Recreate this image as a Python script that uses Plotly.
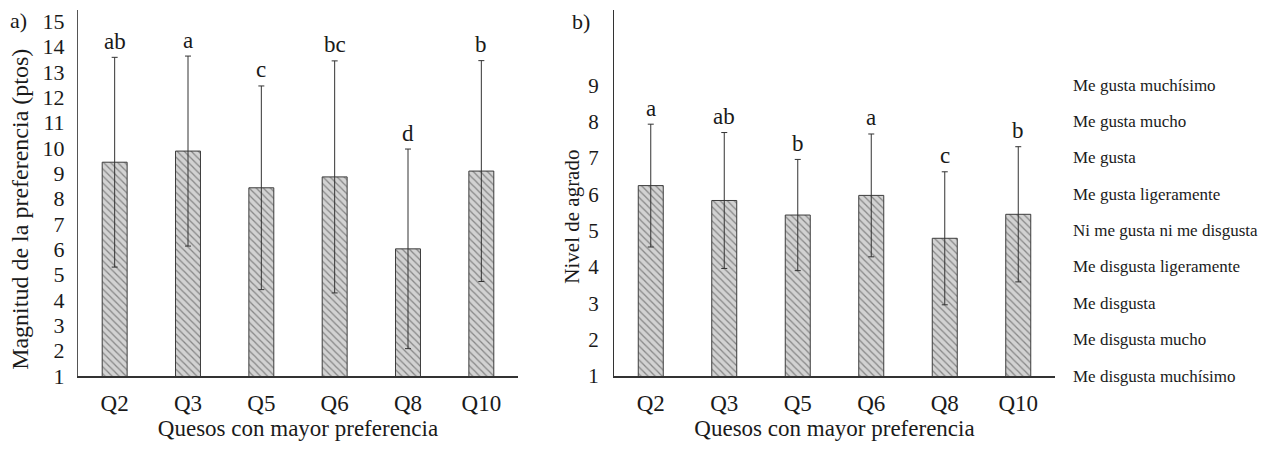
import plotly.graph_objects as go

categories = ["Q2", "Q3", "Q5", "Q6", "Q8", "Q10"]

pref_values = [9.44, 9.88, 8.43, 8.86, 6.02, 9.09]
pref_errors = [4.14, 3.75, 4.02, 4.58, 3.94, 4.36]
pref_letters = ["ab", "a", "c", "bc", "d", "b"]

agrado_values = [6.24, 5.83, 5.43, 5.97, 4.79, 5.45]
agrado_errors = [1.69, 1.87, 1.53, 1.69, 1.83, 1.86]
agrado_letters = ["a", "ab", "b", "a", "c", "b"]

hedonic_labels = [
    "Me disgusta muchísimo", "Me disgusta mucho", "Me disgusta",
    "Me disgusta ligeramente", "Ni me gusta ni me disgusta",
    "Me gusta ligeramente", "Me gusta", "Me gusta mucho", "Me gusta muchísimo",
]
hedonic_levels = [1, 2, 3, 4, 5, 6, 7, 8, 9]

FONT = "Liberation Serif"
TXT = "#1a1a1a"
W, H = 1265, 458

fig = go.Figure()

def bars(vals, errs, xa, ya):
    return go.Bar(
        x=categories, y=vals, xaxis=xa, yaxis=ya, width=0.34,
        marker=dict(
            color="#cccccc",
            line=dict(color="#3c3c3c", width=1),
            pattern=dict(shape="\\", fgcolor="#3a3a3a", bgcolor="#d2d2d2",
                         size=5, solidity=0.25),
        ),
        error_y=dict(type="data", array=errs, visible=True,
                     color="#333333", thickness=1, width=3),
        showlegend=False, hoverinfo="skip",
    )

fig.add_trace(bars(pref_values, pref_errors, "x", "y"))
fig.add_trace(bars(agrado_values, agrado_errors, "x2", "y2"))

for c, v, e, l in zip(categories, pref_values, pref_errors, pref_letters):
    fig.add_annotation(x=c, y=v + e, xref="x", yref="y", text=l, showarrow=False,
                       yshift=16, font=dict(family=FONT, size=23, color=TXT))
for c, v, e, l in zip(categories, agrado_values, agrado_errors, agrado_letters):
    fig.add_annotation(x=c, y=v + e, xref="x2", yref="y2", text=l, showarrow=False,
                       yshift=16, font=dict(family=FONT, size=23, color=TXT))

for lv, lab in zip(hedonic_levels, hedonic_labels):
    fig.add_annotation(x=1073 / W, y=lv, xref="paper", yref="y2", text=lab,
                       showarrow=False, xanchor="left", xshift=-2,
                       font=dict(family=FONT, size=17, color=TXT))

fig.add_annotation(x=0.0, y=1.0, xref="paper", yref="paper", text="a)",
                   showarrow=False, xanchor="left", yanchor="top", xshift=8, yshift=-6,
                   font=dict(family=FONT, size=22, color=TXT))
fig.add_annotation(x=560 / W, y=1.0, xref="paper", yref="paper", text="b)",
                   showarrow=False, xanchor="left", yanchor="top", xshift=10, yshift=-7,
                   font=dict(family=FONT, size=22, color=TXT))

fig.add_annotation(x=20 / W, y=1 - 216 / H, xref="paper", yref="paper",
                   text="Magnitud de la preferencia (ptos)", textangle=-90,
                   showarrow=False, xanchor="center", yanchor="middle",
                   font=dict(family=FONT, size=24, color=TXT))
fig.add_annotation(x=572 / W, y=1 - 223 / H, xref="paper", yref="paper",
                   text="Nivel de agrado", textangle=-90,
                   showarrow=False, xanchor="center", yanchor="middle",
                   font=dict(family=FONT, size=21, color=TXT))

ydom = [1 - 387 / H, 1 - 10 / H]
xtickfont = dict(family=FONT, size=23, color=TXT)
titlefont = dict(family=FONT, size=23, color=TXT)

fig.update_layout(
    width=W, height=H,
    margin=dict(l=0, r=0, t=0, b=0),
    paper_bgcolor="white", plot_bgcolor="white",
    font=dict(family=FONT, color=TXT),
    xaxis=dict(domain=[78 / W, 518 / W], showline=True, linecolor="#333333",
               linewidth=1.5, showgrid=False, ticks="", tickfont=xtickfont,
               ticklabelstandoff=6,
               title=dict(text="Quesos con mayor preferencia", font=titlefont, standoff=5),
               anchor="y"),
    yaxis=dict(domain=ydom, range=[1, 15.46], showline=True, linecolor="#555555",
               linewidth=1, showgrid=False, zeroline=False, ticks="",
               tickvals=list(range(1, 16)),
               tickfont=dict(family=FONT, size=22, color=TXT), ticklabelstandoff=8,
               anchor="x"),
    xaxis2=dict(domain=[614 / W, 1055 / W], showline=True, linecolor="#333333",
                linewidth=1.5, showgrid=False, ticks="", tickfont=xtickfont,
                ticklabelstandoff=6,
                title=dict(text="Quesos con mayor preferencia", font=titlefont, standoff=5),
                anchor="y2"),
    yaxis2=dict(domain=ydom, range=[1, 11.08], showline=True, linecolor="#333333",
                linewidth=1, showgrid=False, zeroline=False, ticks="",
                tickvals=hedonic_levels,
                tickfont=dict(family=FONT, size=21, color=TXT), ticklabelstandoff=10,
                anchor="x2"),
)

fig.write_html("out.html", config={"displayModeBar": False},
               post_script="document.body.style.margin='0';document.body.style.overflow='hidden';")
